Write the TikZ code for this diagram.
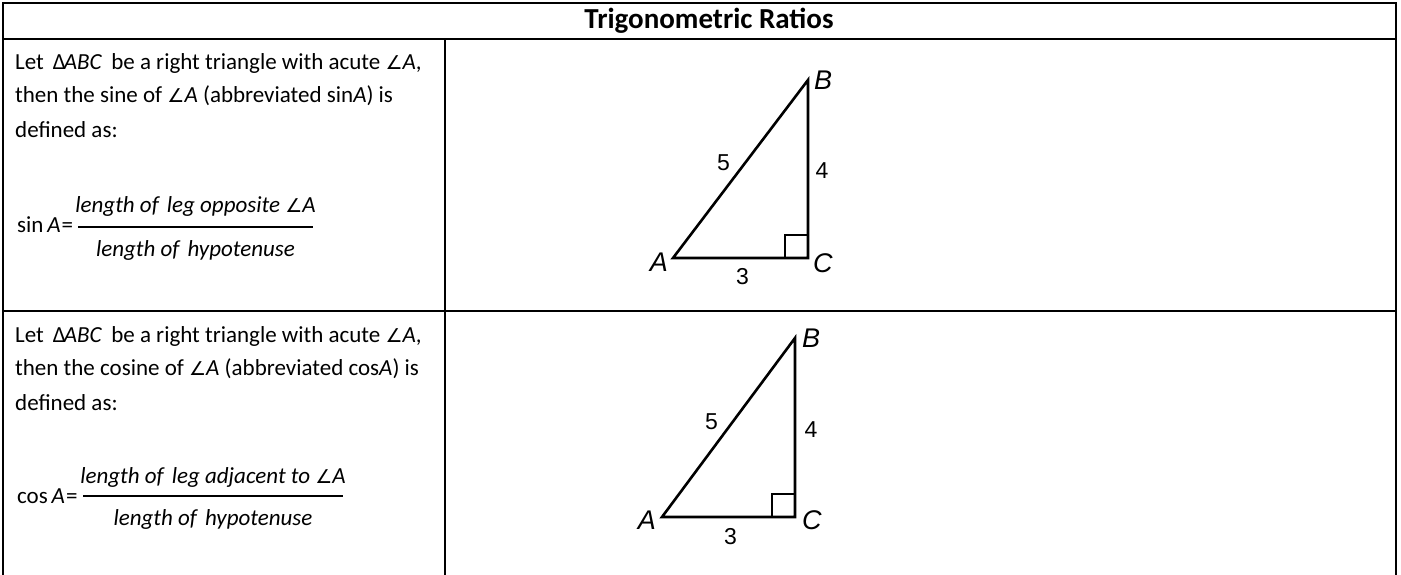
\documentclass[tikz,border=0pt]{standalone}
\usepackage{fontspec}
\setmainfont{Carlito}
\newfontfamily\figfont{Liberation Sans}
\newfontfamily\symfont{DejaVu Sans}
\newcommand{\ang}{{\symfont\itshape\fontsize{19}{23}\selectfont ∠}}
\usetikzlibrary{positioning,calc}

\begin{document}
\begin{tikzpicture}[
    x=1pt, y=-1pt,
    rule/.style={line width=2.4pt},
    hdr/.style={inner sep=0pt, font=\fontsize{29}{34}\selectfont\bfseries},
    para/.style={anchor=base west, inner sep=0pt, font=\fontsize{23}{28}\selectfont},
    lhs/.style={anchor=base west, inner sep=0pt, font=\fontsize{23}{28}\selectfont},
    frac/.style={anchor=base, inner sep=0pt, font=\fontsize{23}{28}\selectfont\itshape},
    bar/.style={line width=1.1pt},
    leg/.style={line width=2.6pt, line join=miter},
    sqmark/.style={line width=1.8pt},
    vlabel/.style={inner sep=0pt, font=\fontsize{27}{32}\selectfont\figfont\itshape},
    slabel/.style={inner sep=0pt, font=\fontsize{23}{28}\selectfont\figfont}
]
\useasboundingbox (0,0) rectangle (1401,575);
\clip (0,0) rectangle (1401,575);

% Table rules
\draw[rule] (3,600) -- (3,3) -- (1396,3) -- (1396,600);
\draw[rule] (3,39) -- (1396,39);
\draw[rule] (3,311) -- (1396,311);
\draw[rule] (445,39) -- (445,600);

% Header
\node[hdr] (title) at (709,21) {Trigonometric Ratios};

% Sine row: text
\node[para] (sinl1) at (15,70) {Let \,Δ\kern-2pt\textit{ABC}\, be a right triangle with acute \ang\textit{A},};
\node[para] (sinl2) at (15,103) {then the sine of \ang\textit{A} (abbreviated sin\textit{A}) is};
\node[para] (sinl3) at (15,138) {defined as:};

% Sine row: formula
\node[lhs] (sinlhs) at (17,233) {sin\,\textit{A}\kern1pt=};
\node[frac] (sinnum) at (195.5,212) {length of\hspace{0.35em}leg opposite \ang A};
\node[frac] (sinden) at (195.5,256) {length of\hspace{0.35em}hypotenuse};
\coordinate (sinbarw) at (78,227);
\coordinate (sinbare) at (313,227);
\draw[bar] (sinbarw) -- (sinbare);

% Sine row: triangle
\coordinate (A1) at (673,258);
\coordinate (C1) at (808,258);
\coordinate (B1) at (808,80);
\draw[leg] (A1) -- (C1) -- (B1) -- cycle;
\draw[sqmark] ([xshift=-23pt]C1) |- ([yshift=23pt]C1);
\node[vlabel, left=5pt of A1, yshift=-4pt] (labA1) {A};
\node[vlabel, right=6pt of B1] (labB1) {B};
\node[vlabel, right=5pt of C1, yshift=-5pt] (labC1) {C};
\node[slabel] (hyp1) at ($(A1)!.5!(B1)+(-17,-6)$) {5};
\node[slabel] (opp1) at ($(C1)!.5!(B1)+(14,2)$) {4};
\node[slabel] (adj1) at ($(A1)!.5!(C1)+(2,19)$) {3};

% Cosine row: text
\node[para] (cosl1) at (15,342) {Let \,Δ\kern-2pt\textit{ABC}\, be a right triangle with acute \ang\textit{A},};
\node[para] (cosl2) at (15,375) {then the cosine of \ang\textit{A} (abbreviated cos\textit{A}) is};
\node[para] (cosl3) at (15,410) {defined as:};

% Cosine row: formula
\node[lhs] (coslhs) at (17,503) {cos\,\textit{A}\kern1pt=};
\node[frac] (cosnum) at (213,483) {length of\hspace{0.35em}leg adjacent to \ang A};
\node[frac] (cosden) at (213,525) {length of\hspace{0.35em}hypotenuse};
\coordinate (cosbarw) at (83,496);
\coordinate (cosbare) at (343,496);
\draw[bar] (cosbarw) -- (cosbare);

% Cosine row: triangle
\coordinate (A2) at (662,517);
\coordinate (C2) at (795,517);
\coordinate (B2) at (795,338);
\draw[leg] (A2) -- (C2) -- (B2) -- cycle;
\draw[sqmark] ([xshift=-23pt]C2) |- ([yshift=23pt]C2);
\node[vlabel, left=6pt of A2, yshift=-3pt] (labA2) {A};
\node[vlabel, right=7pt of B2] (labB2) {B};
\node[vlabel, right=7pt of C2, yshift=-3pt] (labC2) {C};
\node[slabel] (hyp2) at ($(A2)!.5!(B2)+(-17,-6)$) {5};
\node[slabel] (opp2) at ($(C2)!.5!(B2)+(16,2)$) {4};
\node[slabel] (adj2) at ($(A2)!.5!(C2)+(2,20)$) {3};

\end{tikzpicture}
\end{document}
